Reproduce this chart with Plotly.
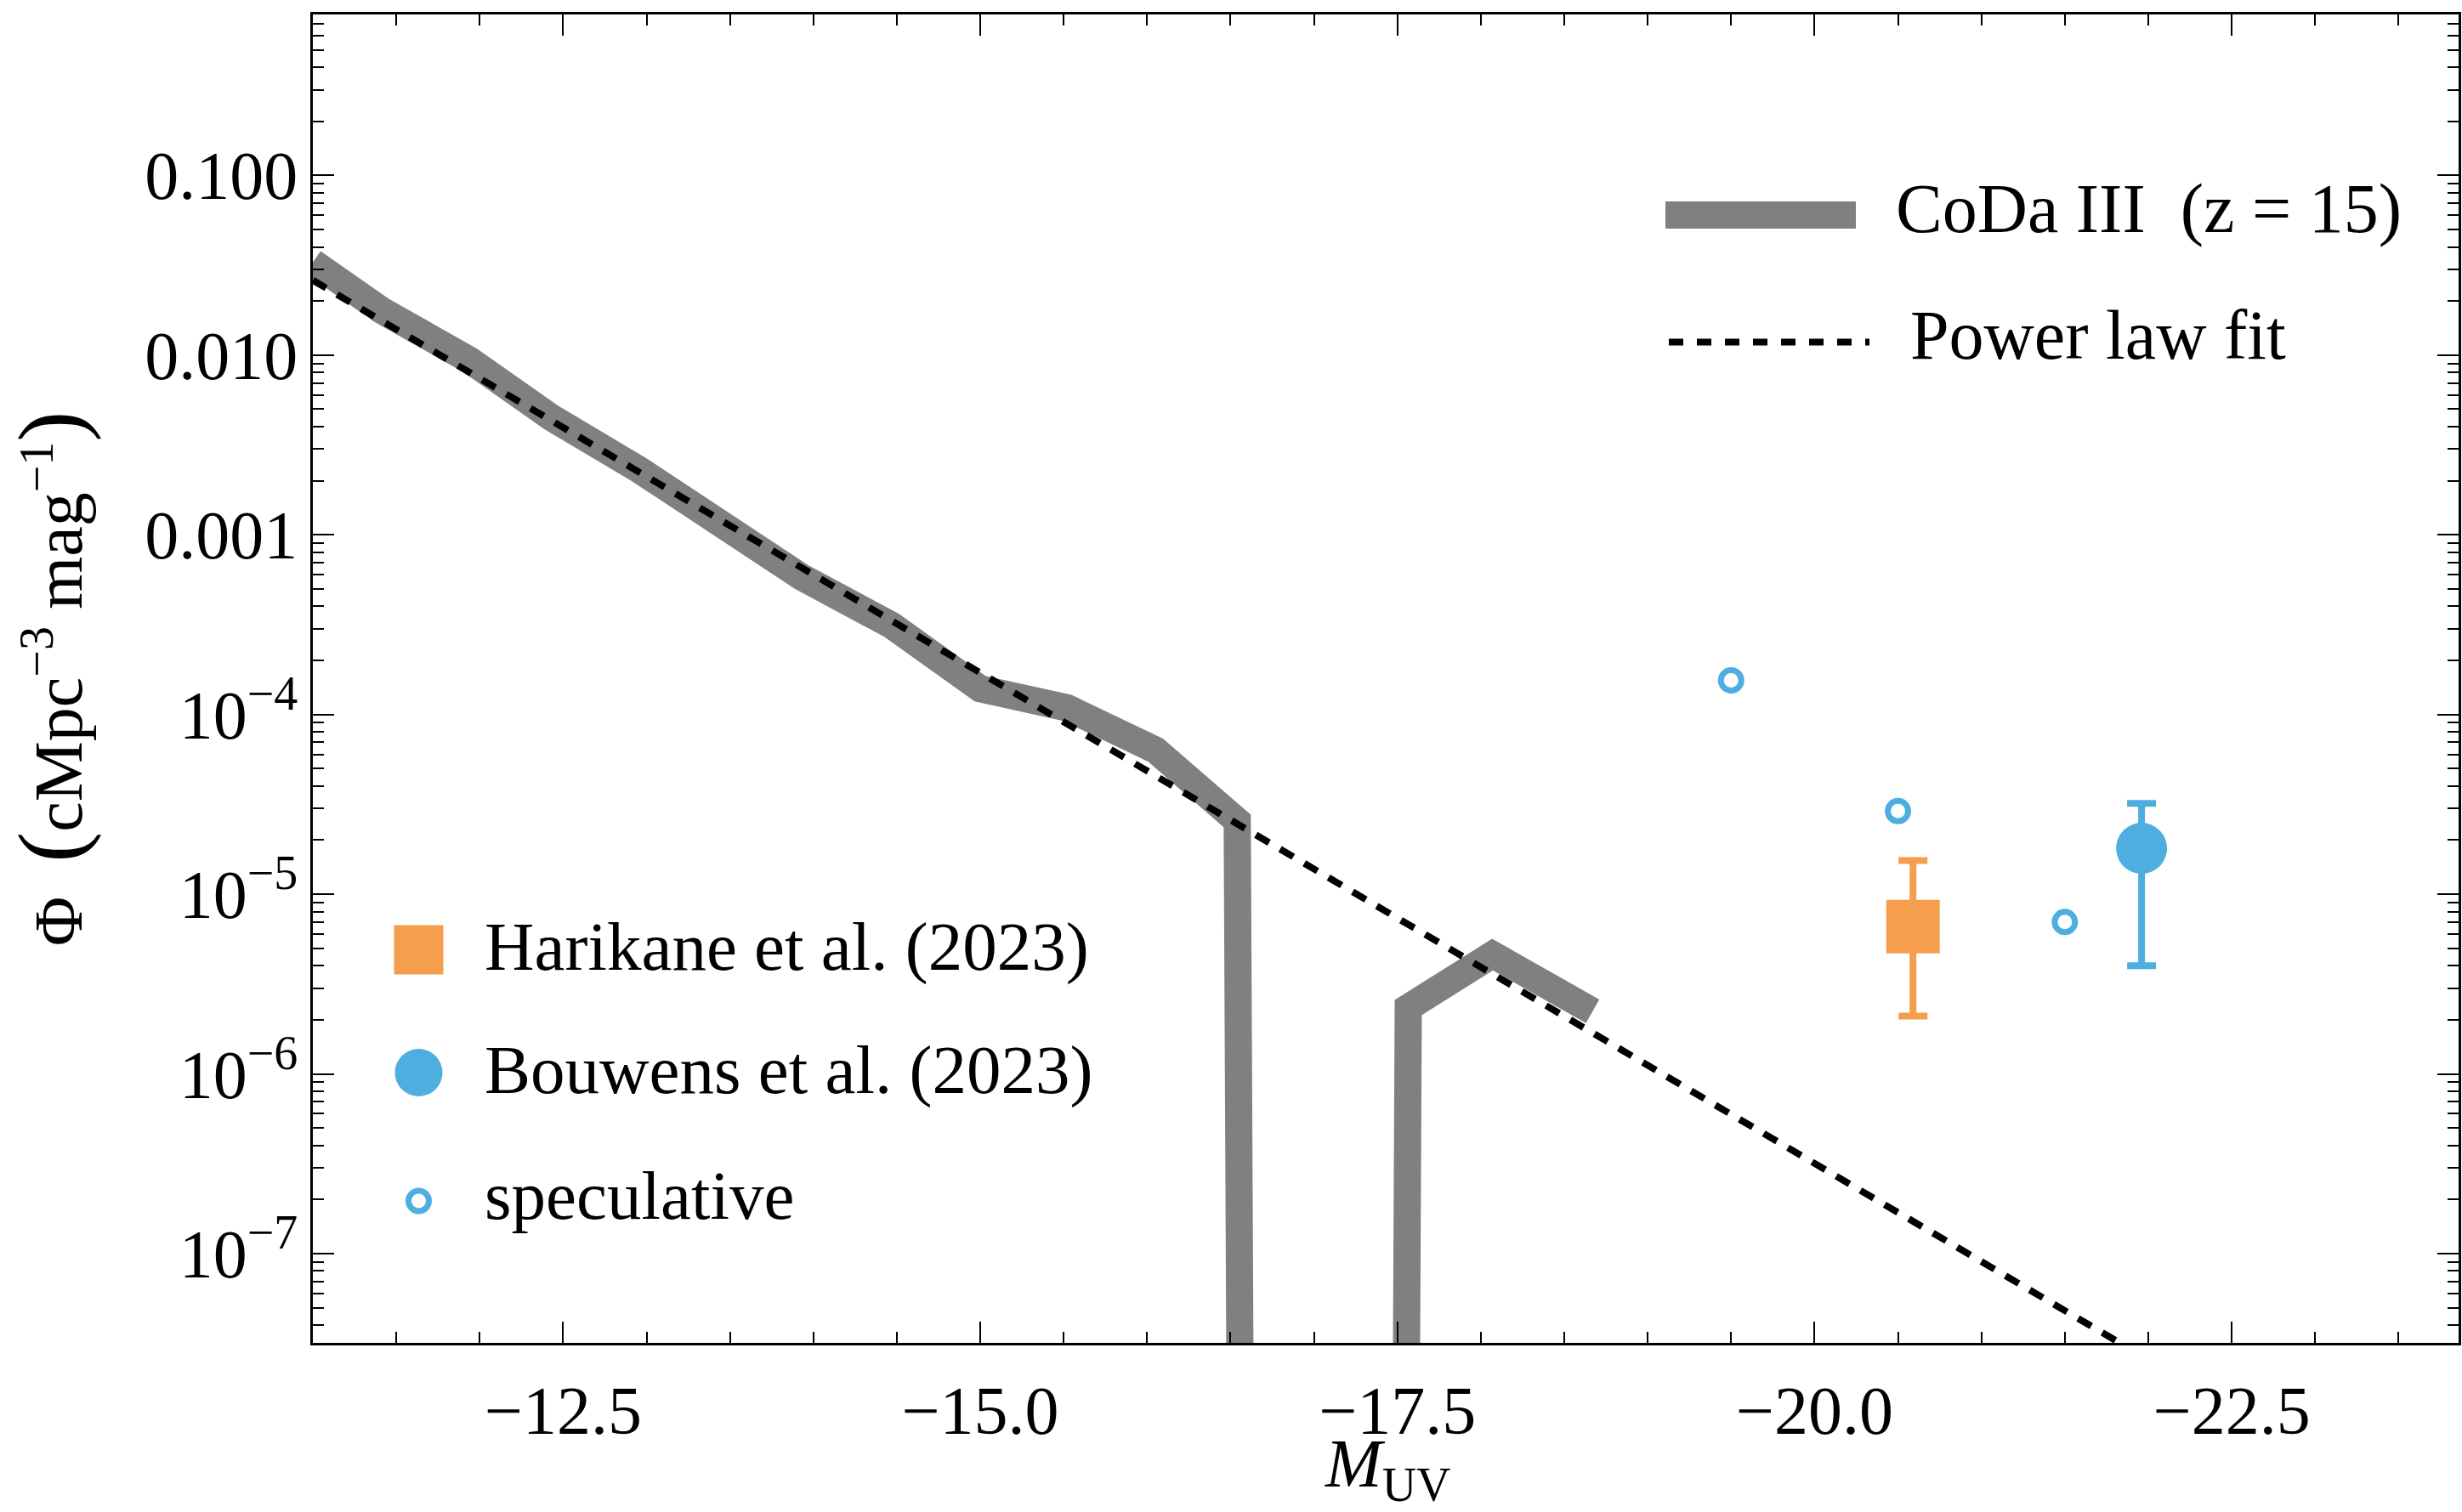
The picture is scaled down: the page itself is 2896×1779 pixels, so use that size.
import plotly.graph_objects as go

# ---- CoDa III UV luminosity function at z = 15 (empty bins are 0) ----
coda_mag = [-11.0, -11.41, -11.94, -12.43, -12.95, -13.44, -13.93, -14.47,
            -15.00, -15.52, -16.05, -16.54, -17.05, -17.565, -18.07, -18.67]
coda_phi = [3.29e-2, 1.78e-2, 9.38e-3, 4.49e-3, 2.32e-3, 1.12e-3, 5.81e-4, 3.13e-4,
            1.39e-4, 1.09e-4, 6.34e-5, 2.56e-5, 0.0, 2.34e-6, 4.61e-6, 2.23e-6]

# ---- power-law fit (straight line in log Phi vs M_UV), visible end points ----
fit_mag = [-11.0, -21.83]
fit_phi = [2.61e-2, 3.18e-8]

# ---- observations ----
harikane_mag = [-20.59]
harikane_phi = [6.6e-6]
harikane_err_hi = [8.8e-6]
harikane_err_lo = [4.5e-6]

bouwens_mag = [-21.96]
bouwens_phi = [1.8e-5]
bouwens_err_hi = [1.4e-5]
bouwens_err_lo = [1.4e-5]

spec_mag = [-19.5, -20.5, -21.5]
spec_phi = [1.55e-4, 2.9e-5, 7.0e-6]

# ---- axes ----
x_range = [-11.0, -23.86]
x_major = [-12.5, -15.0, -17.5, -20.0, -22.5]
x_minor = [-11.5, -12.0, -13.0, -13.5, -14.0, -14.5, -15.5, -16.0, -16.5, -17.0,
           -18.0, -18.5, -19.0, -19.5, -20.5, -21.0, -21.5, -22.0, -23.0, -23.5]
y_range_log = [-7.497, -0.104]
y_major = [1e-7, 1e-6, 1e-5, 1e-4, 1e-3, 1e-2, 1e-1]
y_labels = ["10<sup>−7</sup>", "10<sup>−6</sup>", "10<sup>−5</sup>", "10<sup>−4</sup>",
            "0.001", "0.010", "0.100"]

GRAY = "#808080"
ORANGE = "#F59E4E"
BLUE = "#4FAEE0"
FONT = "Liberation Serif"
FS = 80

W, H = 2896, 1779
ML, MR, MT, MB = 368, 4, 17, 199
PW, PH = W - ML - MR, H - MT - MB

# empty bins sit far below the frame so the curve drops straight out of view
ZERO_FLOOR = 1e-100
coda_plot = [p if p > 0 else ZERO_FLOOR for p in coda_phi]

y_minor = [k * 10.0 ** e for e in range(-8, 0) for k in range(2, 10)]

fig = go.Figure()

fig.add_trace(go.Scatter(
    x=coda_mag, y=coda_plot, mode="lines",
    line=dict(color=GRAY, width=32), name="CoDa III (z = 15)",
    showlegend=False, cliponaxis=True))

fig.add_trace(go.Scatter(
    x=fit_mag, y=fit_phi, mode="lines",
    line=dict(color="black", width=8, dash="18px,15px"),
    name="Power law fit", showlegend=False))

fig.add_trace(go.Scatter(
    x=harikane_mag, y=harikane_phi, mode="markers",
    marker=dict(symbol="square", size=63, color=ORANGE, line=dict(width=0)),
    error_y=dict(type="data", symmetric=False, array=harikane_err_hi,
                 arrayminus=harikane_err_lo, color=ORANGE, thickness=8, width=17),
    name="Harikane et al. (2023)", showlegend=False))

fig.add_trace(go.Scatter(
    x=bouwens_mag, y=bouwens_phi, mode="markers",
    marker=dict(symbol="circle", size=60, color=BLUE, line=dict(width=0)),
    error_y=dict(type="data", symmetric=False, array=bouwens_err_hi,
                 arrayminus=bouwens_err_lo, color=BLUE, thickness=8, width=17),
    name="Bouwens et al. (2023)", showlegend=False))

fig.add_trace(go.Scatter(
    x=spec_mag, y=spec_phi, mode="markers",
    marker=dict(symbol="circle-open", size=24, color=BLUE, line=dict(width=7, color=BLUE)),
    name="speculative", showlegend=False))


def px(xp):
    return (xp - ML) / PW


def py(yp):
    return (H - MB - yp) / PH


shapes = []
annotations = []

# upper-right key
shapes.append(dict(type="rect", xref="paper", yref="paper",
                   x0=px(1959), x1=px(2183), y0=py(269), y1=py(237),
                   fillcolor=GRAY, line=dict(width=0)))
shapes.append(dict(type="line", xref="paper", yref="paper",
                   x0=px(1963), x1=px(2199), y0=py(402.5), y1=py(402.5),
                   line=dict(color="black", width=8, dash="17px,16px")))
annotations.append(dict(text="CoDa III&nbsp; (z = 15)", x=px(2228), y=py(246),
                        xref="paper", yref="paper", xanchor="left", yanchor="middle",
                        showarrow=False, font=dict(family=FONT, size=82, color="black")))
annotations.append(dict(text="Power law fit", x=px(2245), y=py(394),
                        xref="paper", yref="paper", xanchor="left", yanchor="middle",
                        showarrow=False, font=dict(family=FONT, size=82, color="black")))

# lower-left key
cx = 492.5
shapes.append(dict(type="rect", xref="paper", yref="paper",
                   x0=px(cx - 29), x1=px(cx + 29), y0=py(1117.5 + 29), y1=py(1117.5 - 29),
                   fillcolor=ORANGE, line=dict(width=0)))
shapes.append(dict(type="circle", xref="paper", yref="paper",
                   x0=px(cx - 28), x1=px(cx + 28), y0=py(1262 + 28), y1=py(1262 - 28),
                   fillcolor=BLUE, line=dict(width=0)))
shapes.append(dict(type="circle", xref="paper", yref="paper",
                   x0=px(cx - 12), x1=px(cx + 12), y0=py(1413 + 12), y1=py(1413 - 12),
                   fillcolor="rgba(0,0,0,0)", line=dict(color=BLUE, width=7)))
for label, yc in [("Harikane et al. (2023)", 1113.5),
                  ("Bouwens et al. (2023)", 1258.5),
                  ("speculative", 1407)]:
    annotations.append(dict(text=label, x=px(568), y=py(yc), xref="paper", yref="paper",
                            xanchor="left", yanchor="middle", showarrow=False,
                            font=dict(family=FONT, size=81, color="black")))

# x-axis title, set just below the tick labels
annotations.append(dict(text="<i>M</i><sub>UV</sub>", x=px(1632), y=py(1780),
                        xref="paper", yref="paper", xanchor="center", yanchor="bottom",
                        showarrow=False, font=dict(family=FONT, size=FS, color="black")))

axis_common = dict(
    showgrid=False, zeroline=False, showline=True, linecolor="black", linewidth=2.5,
    mirror="ticks", ticks="inside", ticklen=25, tickwidth=2, tickcolor="black",
    tickfont=dict(family=FONT, size=FS, color="black"),
)

fig.update_layout(
    width=W, height=H,
    margin=dict(l=ML, r=MR, t=MT, b=MB, autoexpand=False),
    paper_bgcolor="white", plot_bgcolor="white",
    font=dict(family=FONT, size=FS, color="black"),
    shapes=shapes, annotations=annotations,
    xaxis=dict(
        **axis_common,
        range=x_range, autorange=False,
        tickmode="array", tickvals=x_major,
        ticktext=[f"{v:.1f}".replace("-", "−") for v in x_major],
        minor=dict(tickmode="array", tickvals=x_minor, ticks="inside",
                   ticklen=13, tickwidth=2, tickcolor="black"),
        ticklabelstandoff=8,
    ),
    yaxis=dict(
        **axis_common,
        type="log", range=y_range_log, autorange=False,
        tickmode="array", tickvals=y_major, ticktext=y_labels,
        minor=dict(tickmode="array", tickvals=y_minor, ticks="inside",
                   ticklen=13, tickwidth=2, tickcolor="black"),
        title=dict(text="Φ&nbsp;&nbsp;<span style='font-size:108px'>(</span>cMpc<sup>−3</sup>"
                        " mag<sup>−1</sup><span style='font-size:108px'>)</span>",
                   font=dict(family=FONT, size=FS), standoff=52),
        ticklabelstandoff=-1,
    ),
)

fig.write_html("out.html")
